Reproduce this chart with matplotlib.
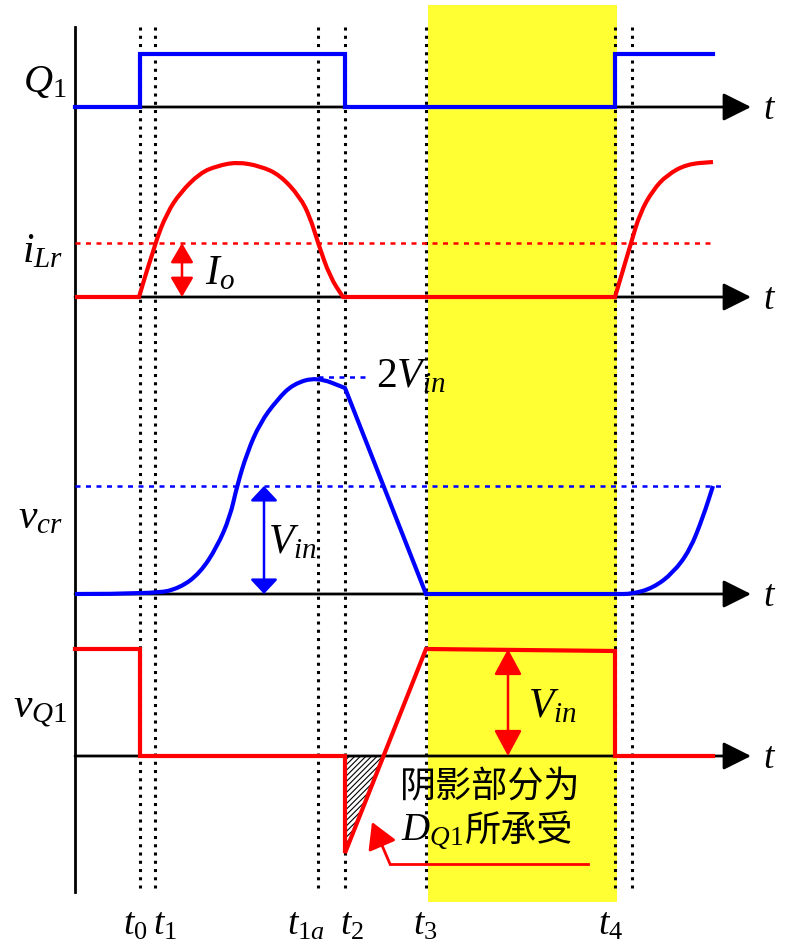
import numpy as np
import matplotlib
matplotlib.use('Agg')
import matplotlib.pyplot as plt
from matplotlib.patches import Rectangle, Polygon, PathPatch
from matplotlib.path import Path

plt.rcParams['mathtext.fontset'] = 'custom'
plt.rcParams['mathtext.rm'] = 'Liberation Serif'
plt.rcParams['mathtext.it'] = 'Liberation Serif:italic'
plt.rcParams['font.family'] = ['Liberation Serif', 'Noto Sans CJK SC']
plt.rcParams['hatch.linewidth'] = 0.8

# time instants (x position on the common time axis)
t_marks = [140, 155, 318, 345, 426, 615, 632]
t_names = ['$t_0$', '$t_1$', '$t_{1a}$', '$t_2$', '$t_3$', '$t_4$', '']
t_start, t_end = 75, 713

# channel baselines (y of each zero line)
base_q1, base_ilr, base_vcr, base_vq1 = 107, 297, 594, 756

# Q1 gate signal
q1_t = [75, 140, 140, 345, 345, 615, 615, 713]
q1_v = [0, 0, 53, 53, 0, 0, 53, 53]

# resonant inductor current
ilr_t = [75, 139, 155, 167, 180, 200, 217, 237, 260, 280, 300, 310, 318, 330, 343,
         615, 631, 640, 653, 667, 687, 713]
ilr_v = [0, 0, 54, 84, 104, 124, 131, 135, 131, 122, 100, 80, 54, 20, 0,
         0, 54, 84, 107, 122, 133, 135]
ilr_sharp = [1, 14, 15]
io_level = 54

# resonant capacitor voltage
vcr_t = [75, 155, 180, 200, 217, 230, 237, 247, 260, 277, 293, 317, 345, 426,
         615, 632, 653, 673, 690, 703, 713]
vcr_v = [0, 0, 6, 21, 47, 77, 108, 141, 171, 194, 210, 217, 206, 0,
         0, 0, 6, 21, 44, 77, 108]
vcr_sharp = [12, 13]
vin_level = 108
peak_level = 217

# switch voltage
vq1_t = [75, 140, 140, 345, 345, 426, 615, 615, 713]
vq1_v = [107, 107, 0, 0, -97, 107, 105, 0, 0]
hatch_t = [345, 383, 345]
hatch_v = [0, 0, -97]


def smooth_path(xs, ys, sharp):
    # quadratic bezier through segment midpoints, read points act as control points
    verts = [(xs[0], ys[0])]
    codes = [Path.MOVETO]
    n = len(xs)
    for i in range(1, n - 1):
        if i in sharp:
            verts.append((xs[i], ys[i]))
            codes.append(Path.LINETO)
        else:
            verts += [(xs[i], ys[i]), ((xs[i] + xs[i + 1]) / 2, (ys[i] + ys[i + 1]) / 2)]
            codes += [Path.CURVE3, Path.CURVE3]
    verts.append((xs[-1], ys[-1]))
    codes.append(Path.LINETO)
    return Path(verts, codes)


fig = plt.figure(figsize=(7.93, 9.42), dpi=100)
ax = fig.add_axes([0, 0, 1, 1])
ax.set_xlim(0, 793)
ax.set_ylim(942, 0)
ax.axis('off')

# highlighted interval t3..t4
ax.add_patch(Rectangle((428, 5), 189, 897, facecolor='#FFFF33', edgecolor='none', zorder=0))

# dotted time markers
for x in t_marks:
    ax.plot([x, x], [27, 888], color='k', lw=2.2, ls=(0, (1, 1.7)), zorder=1)

# vertical axis
ax.plot([t_start, t_start], [27, 892], color='k', lw=2, zorder=2)

# horizontal time axes with arrows
for b in [base_q1, base_ilr, base_vcr, base_vq1]:
    ax.annotate('', xy=(751, b), xytext=(t_start, b),
                arrowprops=dict(arrowstyle='-|>,head_length=0.4,head_width=0.2', mutation_scale=43,
                                color='k', lw=2, shrinkA=0, shrinkB=0), zorder=2)
    ax.text(770, b + 3, '$t$', fontsize=27, ha='center', va='center')

# reference levels
ax.plot([t_start, t_end], [base_ilr - io_level] * 2, color='red', lw=1.8, ls=(0, (2, 2.2)), zorder=2)
ax.plot([t_start, 725], [base_vcr - vin_level] * 2, color='blue', lw=1.8, ls=(0, (2, 2.2)), zorder=2)
ax.plot([318, 365], [base_vcr - peak_level] * 2, color='blue', lw=1.8, ls=(0, (2, 2.2)), zorder=2)

# waveforms
ax.plot(q1_t, base_q1 - np.array(q1_v), color='blue', lw=3, zorder=3, solid_joinstyle='miter')
ax.add_patch(PathPatch(smooth_path(ilr_t, base_ilr - np.array(ilr_v), ilr_sharp),
                       facecolor='none', edgecolor='red', lw=3, zorder=3))
ax.add_patch(PathPatch(smooth_path(vcr_t, base_vcr - np.array(vcr_v), vcr_sharp),
                       facecolor='none', edgecolor='blue', lw=3, zorder=3))
ax.plot(vq1_t, base_vq1 - np.array(vq1_v), color='red', lw=3, zorder=3, solid_joinstyle='miter')

# hatched area below zero
ax.add_patch(Polygon(np.column_stack([hatch_t, base_vq1 - np.array(hatch_v)]), closed=True,
                     facecolor='none', edgecolor='k', lw=0, hatch='//////', zorder=2))


# amplitude arrows
def dbl_arrow(x, y0, y1, color, hl, hw):
    ax.annotate('', xy=(x, y0), xytext=(x, y1),
                arrowprops=dict(arrowstyle='<|-|>,head_length=%g,head_width=%g' % (hl, hw),
                                mutation_scale=20, color=color, lw=1.8, shrinkA=0, shrinkB=0), zorder=4)


dbl_arrow(182, base_ilr - io_level, base_ilr, 'red', 0.6, 0.35)
dbl_arrow(264, base_vcr - vin_level, base_vcr, 'blue', 0.45, 0.42)
dbl_arrow(508, base_vq1 - 107, base_vq1, 'red', 0.8, 0.43)

# annotation pointer
ax.plot([588, 390], [864, 864], color='red', lw=2, zorder=4)
ax.annotate('', xy=(372, 822), xytext=(390, 864),
            arrowprops=dict(arrowstyle='-|>,head_length=0.8,head_width=0.46', mutation_scale=20,
                            color='red', lw=2, shrinkA=0, shrinkB=0), zorder=4)

# channel labels
ax.text(66, 82, '$Q_1$', fontsize=29, ha='right', va='center')
ax.text(63, 252, '$i_{Lr}$', fontsize=30, ha='right', va='center')
ax.text(63, 518, '$v_{cr}$', fontsize=30, ha='right', va='center')
ax.text(67, 710, '$v_{Q1}$', fontsize=30, ha='right', va='center')

ax.text(205, 274, '$I_o$', fontsize=30, ha='left', va='center')
ax.text(268, 543, '$V_{in}$', fontsize=30, ha='left', va='center')
ax.text(376, 377, '$2V_{in}$', fontsize=30, ha='left', va='center')
ax.text(528, 707, '$V_{in}$', fontsize=30, ha='left', va='center')

ax.text(400, 787, '阴影部分为', fontsize=26, ha='left', va='center', family=['Noto Sans CJK SC'])
ax.text(401, 832, '$D_{Q1}$', fontsize=28, ha='left', va='center')
ax.text(465, 831, '所承受', fontsize=26, ha='left', va='center', family=['Noto Sans CJK SC'])

# time labels
label_shift = [-5, 10, -12, 7, -1, -4, 0]
for x, s, d in zip(t_marks, t_names, label_shift):
    if s:
        ax.text(x + d, 925, s, fontsize=27, ha='center', va='center')

fig.savefig('out.png', dpi=100)
